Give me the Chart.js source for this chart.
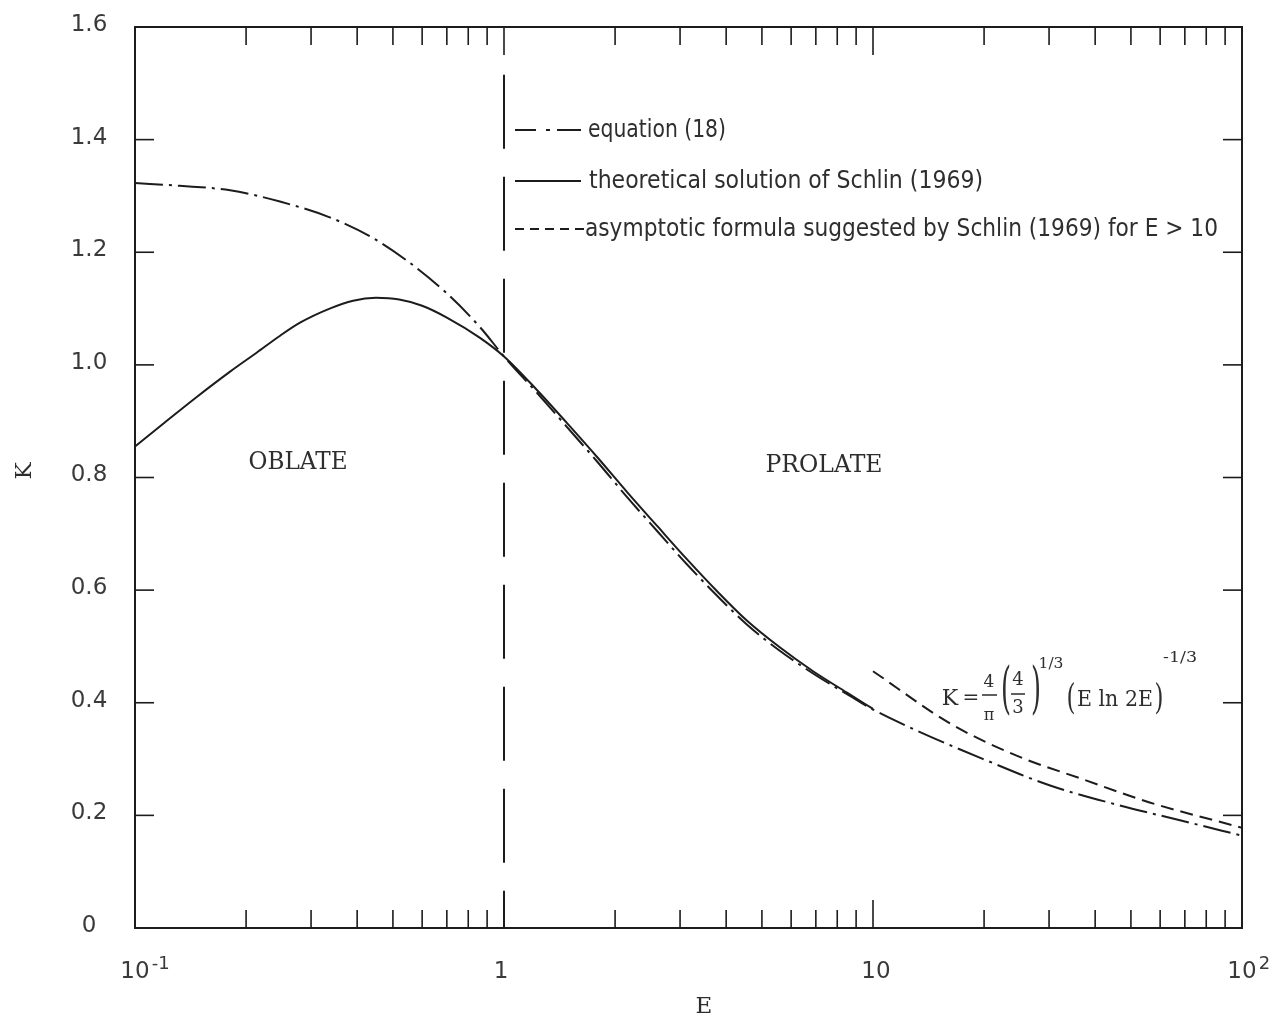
<!DOCTYPE html>
<html>
<head>
<meta charset="utf-8">
<title>K versus E</title>
<script src="https://cdn.jsdelivr.net/npm/chart.js@4.4.1/dist/chart.umd.min.js"></script>
<style>
  html, body { margin: 0; padding: 0; background: #ffffff; }
  #box { position: relative; width: 1277px; height: 1022px; }
</style>
</head>
<body>
<div id="box"><canvas id="chart" width="1277" height="1022"></canvas></div>
<script>
// Axis ranges and tick values
const xRange = [0.1, 100];
const yRange = [0, 1.6];
const yTickValues = [0, 0.2, 0.4, 0.6, 0.8, 1.0, 1.2, 1.4, 1.6];
const yTickLabels = ['0', '0.2', '0.4', '0.6', '0.8', '1.0', '1.2', '1.4', '1.6'];
const xDecadeValues = [0.1, 1, 10, 100];
const xDecadeBase = ['10', '1', '10', '10'];
const xDecadeExp = ['-1', '', '', '2'];
const xMinorValues = [0.2, 0.3, 0.4, 0.5, 0.6, 0.7, 0.8, 0.9,
                      2, 3, 4, 5, 6, 7, 8, 9,
                      20, 30, 40, 50, 60, 70, 80, 90];

// Theoretical solution of Schlin (1969)
const schlinE = [0.1, 0.119, 0.147, 0.181, 0.214, 0.245, 0.28, 0.337, 0.39, 0.45, 0.52, 0.6, 0.7, 0.861, 1.0,
                 1.23, 1.48, 1.79, 2.15, 2.6, 3.13, 3.78, 4.55, 5.6, 6.88, 8.5, 10];
const schlinK = [0.855, 0.895, 0.943, 0.988, 1.022, 1.050, 1.075, 1.100, 1.114, 1.119, 1.116, 1.105, 1.084, 1.048, 1.015,
                 0.955, 0.897, 0.836, 0.775, 0.714, 0.655, 0.598, 0.546, 0.498, 0.456, 0.418, 0.389];

// Equation (18)
const eq18E = [0.1, 0.132, 0.181, 0.247, 0.337, 0.434, 0.546, 0.70, 0.861, 1.0,
               1.23, 1.48, 1.79, 2.15, 2.6, 3.13, 3.78, 4.55, 5.6, 6.88, 8.66, 10,
               13.2, 19.9, 30.2, 45.8, 69.2, 100];
const eq18K = [1.323, 1.318, 1.310, 1.290, 1.262, 1.228, 1.185, 1.127, 1.067, 1.015,
               0.950, 0.890, 0.828, 0.766, 0.705, 0.646, 0.590, 0.539, 0.492, 0.452, 0.412, 0.388,
               0.350, 0.300, 0.253, 0.219, 0.190, 0.164];

// Asymptotic formula suggested by Schlin (1969), E > 10
const asymE = [10, 16.2, 24.5, 37.1, 56.2, 100];
const asymK = [0.456, 0.363, 0.306, 0.264, 0.223, 0.178];

// Oblate / prolate divider at E = 1
const dividerE = [1, 1];
const dividerK = [1.515, 0];

const INK = '#1c1c1c';
const TEXT = '#2e2e2e';
const SANS = '"DejaVu Sans", "Liberation Sans", sans-serif';
const SERIF = '"DejaVu Serif", "Liberation Serif", serif';
const NARROW = '"Liberation Sans Narrow", "DejaVu Sans Condensed", "Liberation Sans", sans-serif';

const pts = (xs, ys) => xs.map((x, i) => ({ x: x, y: ys[i] }));

function seg(ctx, x1, y1, x2, y2) {
  ctx.beginPath();
  ctx.moveTo(x1, y1);
  ctx.lineTo(x2, y2);
  ctx.stroke();
}

// Draw text, optionally squeezed/stretched horizontally to a given width
function txt(ctx, s, x, y, font, align, width) {
  ctx.save();
  ctx.font = font;
  ctx.textBaseline = 'middle';
  ctx.textAlign = align || 'center';
  let k = 1;
  if (width) k = width / ctx.measureText(s).width;
  ctx.translate(x, y);
  ctx.scale(k, 1);
  ctx.fillText(s, 0, 0);
  ctx.restore();
}

const decorations = {
  id: 'decorations',
  afterDatasetsDraw(chart) {
    const { ctx, chartArea: a, scales: { x, y } } = chart;
    ctx.save();
    ctx.strokeStyle = INK;
    ctx.fillStyle = TEXT;
    ctx.lineCap = 'butt';

    // frame
    ctx.lineWidth = 2;
    ctx.strokeRect(a.left, a.top, a.right - a.left, a.bottom - a.top);

    // x ticks, inward on bottom and top
    ctx.lineWidth = 1.6;
    xMinorValues.forEach(v => {
      const px = x.getPixelForValue(v);
      seg(ctx, px, a.bottom, px, a.bottom - 18);
      seg(ctx, px, a.top, px, a.top + 18);
    });
    xDecadeValues.slice(1, -1).forEach(v => {
      const px = x.getPixelForValue(v);
      seg(ctx, px, a.bottom, px, a.bottom - 28);
      seg(ctx, px, a.top, px, a.top + 28);
    });

    // y ticks, inward on left and right
    yTickValues.slice(1, -1).forEach(v => {
      const py = y.getPixelForValue(v);
      seg(ctx, a.left, py, a.left + 19, py);
      seg(ctx, a.right, py, a.right - 19, py);
    });

    // y tick labels
    ctx.fillStyle = '#3a3a3a';
    yTickValues.forEach((v, i) => {
      txt(ctx, yTickLabels[i], 89, y.getPixelForValue(v) - 2, `23px ${SANS}`, 'center');
    });

    // x tick labels (powers of ten)
    xDecadeValues.forEach((v, i) => {
      const px = x.getPixelForValue(v) + (i === 2 ? 3 : 0) - (i === 1 ? 3 : 0);
      const ly = 972;
      txt(ctx, xDecadeBase[i], px, ly, `23px ${SANS}`, 'center');
      if (xDecadeExp[i]) {
        ctx.font = `23px ${SANS}`;
        const w = ctx.measureText(xDecadeBase[i]).width;
        txt(ctx, xDecadeExp[i], px + w / 2 + 2, ly - 8, `18px ${SANS}`, 'left');
      }
    });
    ctx.fillStyle = TEXT;

    // axis titles
    txt(ctx, 'E', 704, 1007, `23px ${SERIF}`, 'center');
    ctx.save();
    ctx.translate(25, 471);
    ctx.rotate(-Math.PI / 2);
    txt(ctx, 'K', 0, 0, `23px ${SERIF}`, 'center');
    ctx.restore();

    // region labels
    txt(ctx, 'OBLATE', 298, 463, `24px ${SERIF}`, 'center', 99);
    txt(ctx, 'PROLATE', 824, 466, `24px ${SERIF}`, 'center', 117);

    // legend keys
    ctx.lineWidth = 2;
    seg(ctx, 515, 130, 536, 130);
    seg(ctx, 546, 130, 550, 130);
    seg(ctx, 557, 130, 581, 130);
    seg(ctx, 515, 181, 581, 181);
    [515, 530, 545, 560, 575].forEach(s => seg(ctx, s, 229, s + 9, 229));

    // legend text
    txt(ctx, 'equation (18)', 588, 131, `24px ${NARROW}`, 'left', 138);
    txt(ctx, 'theoretical solution of Schlin (1969)', 589, 182, `24px ${NARROW}`, 'left', 394);
    txt(ctx, 'asymptotic formula suggested by Schlin (1969) for E > 10', 585, 230, `24px ${NARROW}`, 'left', 633);

    // asymptotic formula
    txt(ctx, 'K', 950, 699, `22px ${SERIF}`, 'center');
    txt(ctx, '=', 971, 699, `20px ${SERIF}`, 'center');
    txt(ctx, '4', 989, 683, `17px ${SERIF}`, 'center');
    ctx.lineWidth = 1.4;
    seg(ctx, 982, 695, 997, 695);
    txt(ctx, 'π', 989, 716, `16px ${SERIF}`, 'center');
    txt(ctx, '(', 1006, 692, `56px ${SERIF}`, 'center', 10);
    txt(ctx, '4', 1018, 680, `18px ${SERIF}`, 'center');
    seg(ctx, 1011, 694, 1025, 694);
    txt(ctx, '3', 1018, 708, `18px ${SERIF}`, 'center');
    txt(ctx, ')', 1036, 692, `56px ${SERIF}`, 'center', 10);
    txt(ctx, '1/3', 1051, 664, `15px ${SERIF}`, 'center', 25);
    txt(ctx, '(', 1071, 700, `36px ${SERIF}`, 'center', 9);
    txt(ctx, 'E ln 2E', 1115, 700, `22px ${SERIF}`, 'center', 76);
    txt(ctx, ')', 1159, 700, `36px ${SERIF}`, 'center', 9);
    txt(ctx, '-1/3', 1180, 658, `15px ${SERIF}`, 'center', 34);

    ctx.restore();
  }
};

const lineStyle = {
  showLine: true,
  borderColor: INK,
  backgroundColor: INK,
  borderWidth: 2,
  pointRadius: 0,
  pointHoverRadius: 0,
  fill: false,
  cubicInterpolationMode: 'monotone'
};

new Chart(document.getElementById('chart'), {
  type: 'scatter',
  data: {
    datasets: [
      Object.assign({}, lineStyle, {
        label: 'equation (18)',
        data: pts(eq18E, eq18K),
        borderDash: [28, 6, 3, 6]
      }),
      Object.assign({}, lineStyle, {
        label: 'theoretical solution of Schlin (1969)',
        data: pts(schlinE, schlinK)
      }),
      Object.assign({}, lineStyle, {
        label: 'asymptotic formula suggested by Schlin (1969) for E > 10',
        data: pts(asymE, asymK),
        borderDash: [13, 7]
      }),
      Object.assign({}, lineStyle, {
        label: 'E = 1',
        data: pts(dividerE, dividerK),
        borderDash: [74, 28],
        cubicInterpolationMode: 'default',
        tension: 0
      })
    ]
  },
  options: {
    responsive: false,
    animation: false,
    events: [],
    layout: { padding: { left: 135, top: 27, right: 35, bottom: 94 } },
    scales: {
      x: { type: 'logarithmic', min: xRange[0], max: xRange[1], display: false },
      y: { type: 'linear', min: yRange[0], max: yRange[1], display: false }
    },
    plugins: {
      legend: { display: false },
      tooltip: { enabled: false }
    }
  },
  plugins: [decorations]
});
</script>
</body>
</html>
